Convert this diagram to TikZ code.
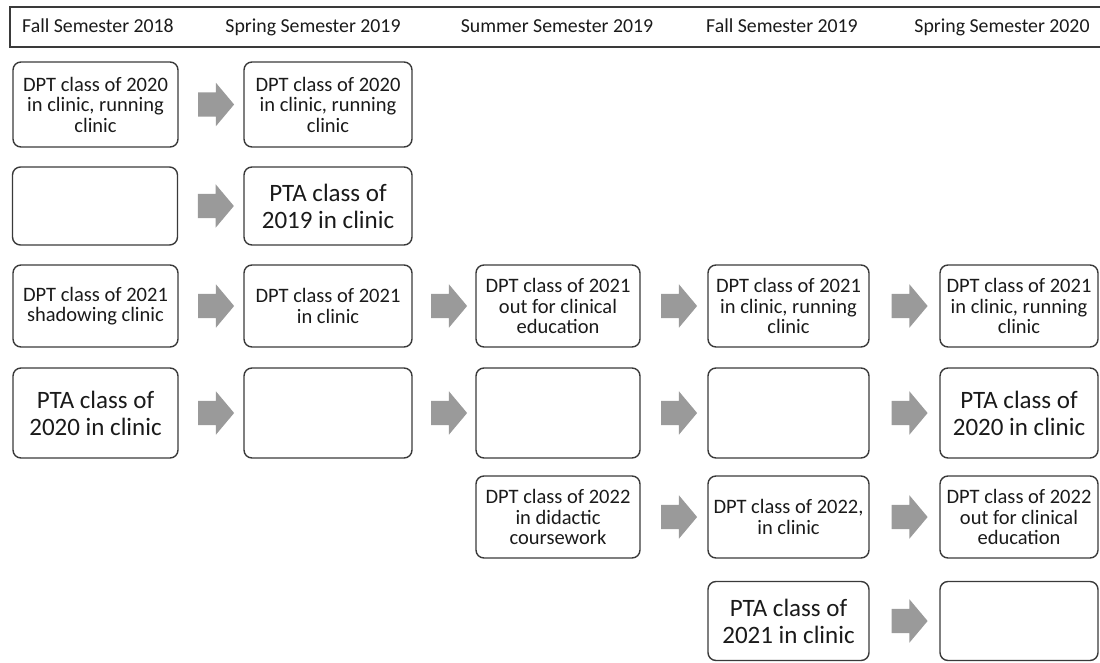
\documentclass[tikz,border=0pt]{standalone}
\usepackage{fontspec}
\setmainfont{Carlito}
\usetikzlibrary{shapes.arrows}
\definecolor{boxc}{HTML}{3A3A3A}
\definecolor{txt}{HTML}{1A1A1A}
\definecolor{arr}{HTML}{9A9A9A}
\begin{document}
\begin{tikzpicture}[x=1pt,y=-1pt,
 stepbox/.style={draw=boxc, line width=1.4pt, rounded corners=8pt, align=center, inner sep=0pt, text=txt, font=\fontsize{20.5}{20.5}\selectfont},
 bigtext/.style={font=\fontsize{25}{27}\selectfont},
 headtext/.style={text=txt, font=\fontsize{19.8}{22}\selectfont, inner sep=0pt, anchor=base},
 blockarrow/.style={single arrow, fill=arr, draw=none, minimum height=36pt, inner xsep=0pt, inner ysep=12pt, single arrow head extend=9.5pt, single arrow tip angle=100, anchor=center},
 ca/.style={minimum width=165pt}, cb/.style={minimum width=168pt}, cc/.style={minimum width=164pt},
 cd/.style={minimum width=161pt}, ce/.style={minimum width=158pt},
 ra/.style={minimum height=85pt}, rb/.style={minimum height=78pt}, rc/.style={minimum height=82pt},
 rd/.style={minimum height=90pt}, re/.style={minimum height=82pt}, rf/.style={minimum height=79pt}]
\useasboundingbox (0,0) rectangle (1100,663);

% header
\draw[draw=boxc, line width=1.6pt] (10,7) rectangle (1106,47);
\node[headtext] (h1) at (98,32.5) {Fall Semester 2018};
\node[headtext] (h2) at (313,32.5) {Spring Semester 2019};
\node[headtext] (h3) at (557,32.5) {Summer Semester 2019};
\node[headtext] (h4) at (782,32.5) {Fall Semester 2019};
\node[headtext] (h5) at (1002,32.5) {Spring Semester 2020};

% row 1
\node[stepbox,ca,ra] (r1c1) at (95.5,104.5) {DPT class of 2020\\in clinic, running\\clinic};
\node[stepbox,cb,ra] (r1c2) at (328,104.5) {DPT class of 2020\\in clinic, running\\clinic};
% row 2
\node[stepbox,ca,rb] (r2c1) at (95,206) {};
\node[stepbox,cb,rb,bigtext] (r2c2) at (328,206) {PTA class of\\2019 in clinic};
% row 3
\node[stepbox,ca,rc] (r3c1) at (95.5,306) {DPT class of 2021\\shadowing clinic};
\node[stepbox,cb,rc] (r3c2) at (328,306) {DPT class of 2021\\in clinic};
\node[stepbox,cc,rc] (r3c3) at (558,306) {DPT class of 2021\\out for clinical\\education};
\node[stepbox,cd,rc] (r3c4) at (788.5,306) {DPT class of 2021\\in clinic, running\\clinic};
\node[stepbox,ce,rc] (r3c5) at (1019,306) {DPT class of 2021\\in clinic, running\\clinic};
% row 4
\node[stepbox,ca,rd,bigtext] (r4c1) at (95.5,413) {PTA class of\\2020 in clinic};
\node[stepbox,cb,rd] (r4c2) at (328,413) {};
\node[stepbox,cc,rd] (r4c3) at (558,413) {};
\node[stepbox,cd,rd] (r4c4) at (788.5,413) {};
\node[stepbox,ce,rd,bigtext] (r4c5) at (1019,413) {PTA class of\\2020 in clinic};
% row 5
\node[stepbox,cc,re] (r5c3) at (558,517) {DPT class of 2022\\in didactic\\coursework};
\node[stepbox,cd,re] (r5c4) at (788.5,517) {DPT class of 2022,\\in clinic};
\node[stepbox,ce,re] (r5c5) at (1019,517) {DPT class of 2022\\out for clinical\\education};
% row 6
\node[stepbox,cd,rf,bigtext] (r6c4) at (788.5,621) {PTA class of\\2021 in clinic};
\node[stepbox,ce,rf] (r6c5) at (1019,621) {};

% arrows
\foreach \a/\b in {r1c1/r1c2, r2c1/r2c2,
  r3c1/r3c2, r3c2/r3c3, r3c3/r3c4, r3c4/r3c5,
  r4c1/r4c2, r4c2/r4c3, r4c3/r4c4, r4c4/r4c5,
  r5c3/r5c4, r5c4/r5c5, r6c4/r6c5}
  \path (\a) -- (\b) node[midway, blockarrow] {};
\end{tikzpicture}
\end{document}
